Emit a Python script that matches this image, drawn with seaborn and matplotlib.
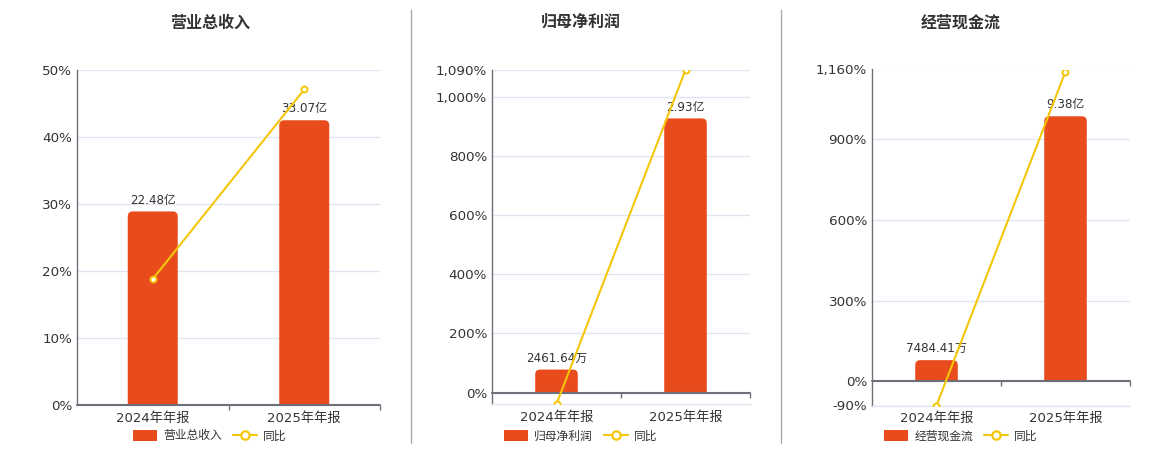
import numpy as np
import pandas as pd
import matplotlib
matplotlib.use("Agg")
import matplotlib.pyplot as plt
import seaborn as sns
from matplotlib.patches import PathPatch, Patch
from matplotlib.path import Path
from matplotlib.lines import Line2D
from matplotlib.ticker import FuncFormatter

sns.set_style("white")
plt.rcParams['font.family'] = ['DejaVu Sans', 'Noto Sans CJK SC']

# ---------------- data ----------------
periods = ["2024年年报", "2025年年报"]
titles = ["营业总收入", "归母净利润", "经营现金流"]

revenue_yi = [22.48, 33.07]
revenue_labels = ["22.48亿", "33.07亿"]
revenue_yoy = [18.8, 47.1]

netprofit_yi = [0.246164, 2.93]
netprofit_labels = ["2461.64万", "2.93亿"]
netprofit_yoy = [-38.5, 1090.3]

cashflow_yi = [0.748441, 9.38]
cashflow_labels = ["7484.41万", "9.38亿"]
cashflow_yoy = [-90.0, 1152.5]

yoy_ticks = [
    [0, 10, 20, 30, 40, 50],
    [0, 200, 400, 600, 800, 1000, 1090],
    [-90, 0, 300, 600, 900, 1160],
]
yoy_limits = [(0, 50), (-38.5, 1090), (-90, 1160)]

# ---------------- style ----------------
BAR = "#E84B1C"
LINE = "#F4C609"
GRID = "#E0E6F1"
AXIS = "#6E7079"
TXT = "#333333"

W, H = 1160, 450
# panel plot areas in pixels (left, top, right, bottom)
areas = [(77, 70, 380, 405), (492, 70, 750, 404), (872, 69.5, 1130, 405.5)]
centers = [210, 581, 961]

fig = plt.figure(figsize=(W / 100, H / 100), dpi=100)

panels = [
    (revenue_yi, revenue_labels, revenue_yoy),
    (netprofit_yi, netprofit_labels, netprofit_yoy),
    (cashflow_yi, cashflow_labels, cashflow_yoy),
]


def top_rounded(x0, y0, w, h, rx, ry):
    x1, y1 = x0 + w, y0 + h
    verts = [(x0, y0), (x0, y1 - ry), (x0, y1), (x0 + rx, y1),
             (x1 - rx, y1), (x1, y1), (x1, y1 - ry), (x1, y0), (x0, y0)]
    codes = [Path.MOVETO, Path.LINETO, Path.CURVE3, Path.CURVE3,
             Path.LINETO, Path.CURVE3, Path.CURVE3, Path.LINETO, Path.CLOSEPOLY]
    return Path(verts, codes)


for i, (vals, labs, yoy) in enumerate(panels):
    l, t, r, b = areas[i]
    wpx, hpx = r - l, b - t
    ax = fig.add_axes([l / W, 1 - b / H, wpx / W, hpx / H])
    ax_bar = ax.twinx()
    ax_line = ax.twinx()

    df = pd.DataFrame({"period": periods, "value": vals, "yoy": yoy})

    # bars
    sns.barplot(data=df, x="period", y="value", ax=ax_bar, color=BAR,
                width=0.33, saturation=1)
    ymin, ymax = yoy_limits[i]
    btop = max(vals) / 0.85
    bbot = btop * ymin / ymax
    ax_bar.set_ylim(bbot, btop)
    ax_bar.set_xlim(-0.5, len(periods) - 0.5)

    xpp = len(periods) / wpx
    ypp = (btop - bbot) / hpx
    for p in list(ax_bar.patches):
        x0, y0, w, h = p.get_x(), p.get_y(), p.get_width(), p.get_height()
        p.set_visible(False)
        ax_bar.add_patch(PathPatch(top_rounded(x0, y0, w, h, 5 * xpp, 5 * ypp),
                                   fc=BAR, ec="none", zorder=2))
    ax_bar.bar_label(ax_bar.containers[0], labels=labs, padding=3.5,
                     fontsize=8.6, color=TXT)

    # line
    sns.pointplot(data=df, x="period", y="yoy", ax=ax_line, color=LINE,
                  markers="o", linewidth=1.5, markersize=4.3,
                  markeredgewidth=1.4)
    for ln in ax_line.lines:
        ln.set_markerfacecolor("white")
        ln.set_markeredgecolor(LINE)
    ax_line.set_ylim(ymin, ymax)

    for a in (ax_bar, ax_line):
        a.set_yticks([])
        a.set_ylabel("")
        a.set_xlabel("")
        for s in a.spines.values():
            s.set_visible(False)

    # main axis (percent)
    ax.set_ylim(ymin, ymax)
    ax.set_xlim(-0.5, len(periods) - 0.5)
    ax.set_yticks(yoy_ticks[i])
    ax.yaxis.set_major_formatter(FuncFormatter(lambda v, pos: f"{v:,.0f}%"))
    ax.set_xticks(range(len(periods)))
    ax.set_xticklabels(periods)
    ax.tick_params(axis="y", length=0, pad=3.6, labelsize=9.7, labelcolor=TXT)
    ax.tick_params(axis="x", length=0, pad=5, labelsize=9.5, labelcolor=TXT)
    ax.grid(axis="y", color=GRID, lw=1)
    ax.set_axisbelow(True)
    for s in ("top", "right"):
        ax.spines[s].set_visible(False)
    ax.spines["left"].set_color(AXIS)
    ax.spines["left"].set_linewidth(1)
    ax.spines["bottom"].set_color(GRID)
    ax.spines["bottom"].set_linewidth(1)
    ax_bar.set_xticks(range(len(periods)))
    ax_bar.set_xticklabels(periods)

    # zero axis line with boundary ticks
    ax_line.axhline(0, color=AXIS, lw=1.5, clip_on=False, zorder=1)
    tlen = 5 * (ymax - ymin) / hpx
    bounds = np.arange(len(periods) + 1) - 0.5
    ax.vlines(bounds[1:], -tlen, 0, color=AXIS, lw=1, clip_on=False)

    # title
    fig.text(centers[i] / W, 1 - 22.5 / H, titles[i], ha="center", va="center",
             fontsize=11.5, fontweight="bold", color=TXT)

    # legend
    handles = [Patch(facecolor=BAR, edgecolor="none"),
               Line2D([], [], color=LINE, lw=1.5, marker="o", markersize=6,
                      markerfacecolor="white", markeredgewidth=1.6)]
    fig.legend(handles, [titles[i], "同比"], loc="center",
               bbox_to_anchor=(centers[i] / W, 1 - 436 / H), ncol=2,
               frameon=False, fontsize=8.5, labelcolor=TXT,
               handlelength=2.05, handleheight=1.1, handletextpad=0.5,
               columnspacing=0.95)

# separators
for xs in (410.5, 780.5):
    fig.add_artist(Line2D([xs / W, xs / W], [1 - 443 / H, 1 - 10 / H],
                          color="#AAAAAA", lw=1))

fig.savefig("out.png", dpi=100)
